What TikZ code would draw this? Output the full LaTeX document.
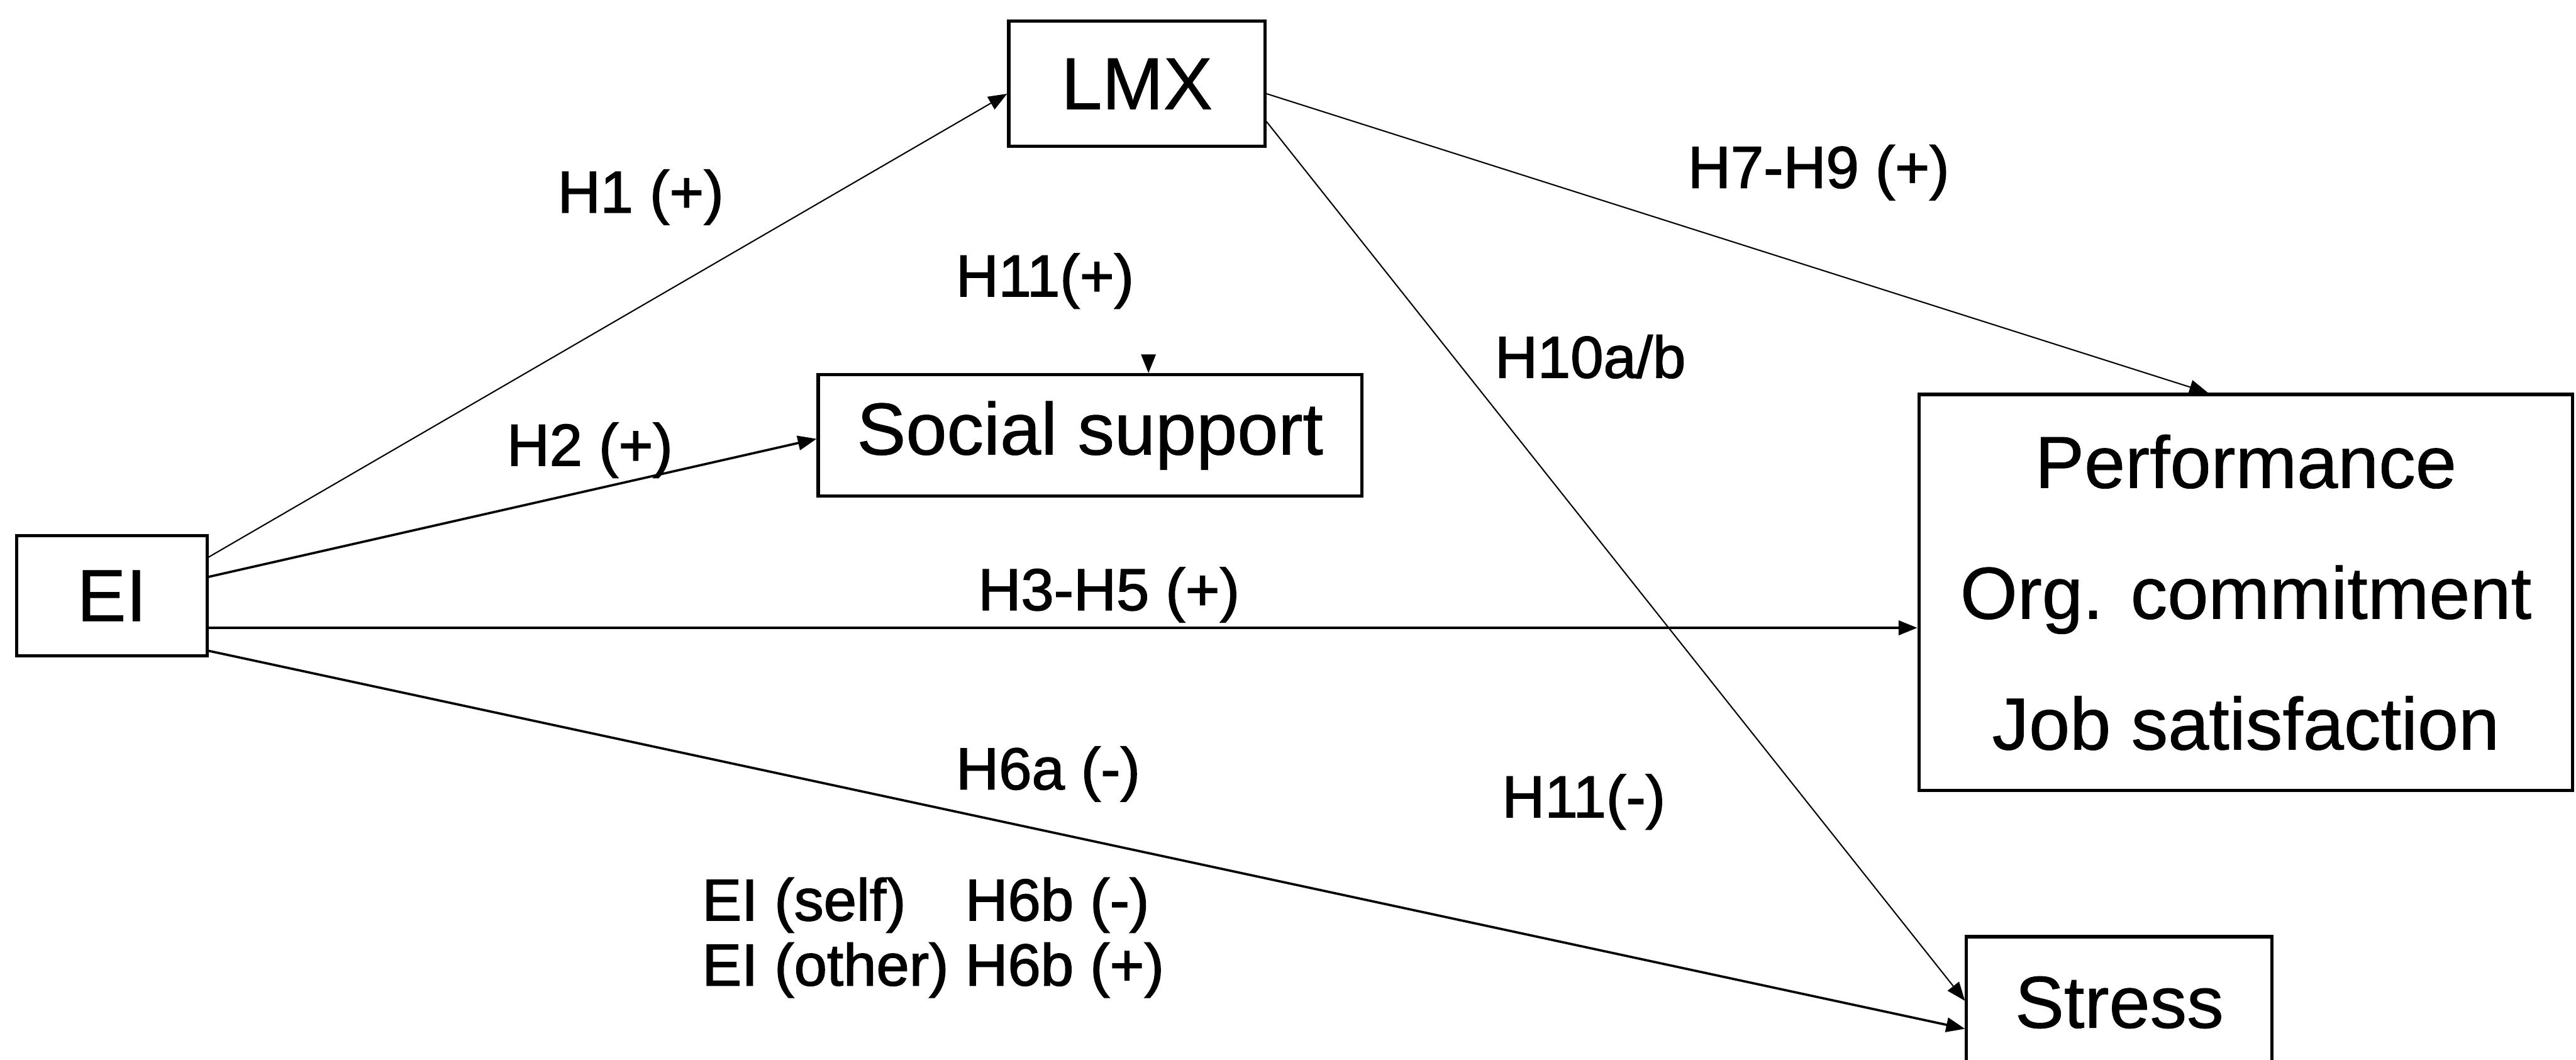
\documentclass[tikz,border=0pt]{standalone}
\usepackage{fontspec}
\setmainfont{Liberation Sans}
% slightly heavier faces for the box titles and for the hypothesis labels
\newfontfamily\boxface{Liberation Sans}[FakeBold=0.7]
\newfontfamily\labelface{Liberation Sans}[FakeBold=1.6]
\usetikzlibrary{arrows.meta,calc}
\begin{document}
\begin{tikzpicture}[x=0.02cm,y=-0.02cm,
  box/.style={draw,line width=1.1pt,inner sep=0pt,align=center,
    font=\boxface\fontsize{25.5}{45.3}\selectfont},
  lbl/.style={inner sep=0pt,font=\labelface\fontsize{20.5}{22.5}\selectfont},
  link/.style={line width=0.8pt,-{Triangle[length=6.5pt,width=5pt]}},
  thinlink/.style={link,line width=0.45pt}]
\path[use as bounding box] (0,0) rectangle (1568,645);
\clip (0,0) rectangle (1568,645);

% constructs
\node[box,minimum width=2.32cm,minimum height=1.46cm] (EI) at (68,362.5) {EI};
\node[box,minimum width=3.12cm,minimum height=1.52cm] (LMX) at (692,51) {LMX};
\node[box,minimum width=6.62cm,minimum height=1.48cm] (SS) at (663.5,265) {Social support};
\node[box,minimum width=7.96cm,minimum height=4.82cm] (OUT) at (1367,360.5)
  {Performance\\Org. commitment\\Job satisfaction};
\node[box,minimum width=3.72cm,minimum height=1.6cm] (ST) at (1290,610) {Stress};

% paths from EI
\draw[thinlink] ($(EI.north east)+(0,14)$) -- ($(LMX.north west)+(0,45)$);
\draw[link] ($(EI.north east)+(0,26)$) -- ($(SS.north west)+(0,40)$);
\draw[link] ($(EI.north east)+(0,57)$) -- ($(OUT.north west)+(0,143)$);
\draw[link] ($(EI.north east)+(0,71)$) -- ($(ST.north west)+(0,57)$);

% paths from LMX
\draw[thinlink] ($(LMX.north east)+(0,45)$) -- ($(OUT.north west)+(177,0)$);
\draw[thinlink] ($(LMX.north east)+(0,62)$) -- ($(ST.north west)+(0,40)$);

% moderation onto social support
\coordinate (H11top) at ($(SS.north west)+(202,-11)$);
\draw[link] (H11top) -- ($(SS.north west)+(202,0)$);

% hypothesis labels
\node[lbl] (l1) at (390,120) {H1 (+)};
\node[lbl] (l11p) at (636,171) {H11(+)};
\node[lbl] (l2) at (359,274) {H2 (+)};
\node[lbl] (l3) at (675,362) {H3-H5 (+)};
\node[lbl] (l6a) at (638,471) {H6a (-)};
\node[lbl] (l7) at (1107,105) {H7-H9 (+)};
\node[lbl] (l10) at (968,217) {H10a/b};
\node[lbl] (l11m) at (964,488) {H11(-)};
\node[lbl,anchor=west] (l6b) at (427,572)
  {\begin{tabular}{@{}l@{\ }l@{}}EI (self) & H6b (-)\\EI (other) & H6b (+)\end{tabular}};
\end{tikzpicture}
\end{document}
